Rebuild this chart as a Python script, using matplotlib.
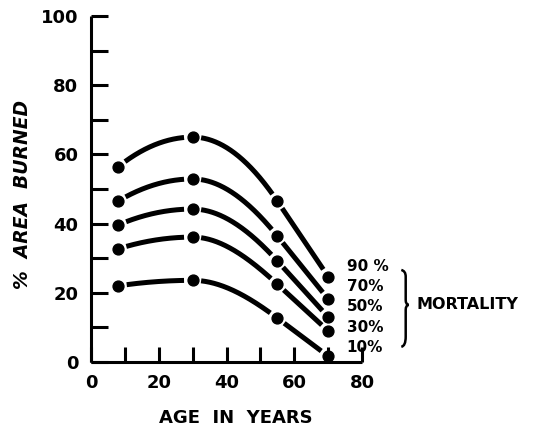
import numpy as np
import matplotlib
matplotlib.use("Agg")
import matplotlib.pyplot as plt
from matplotlib.path import Path
from matplotlib.patches import PathPatch

# -- data: % area burned vs. age, one curve per mortality level ---------------
age = [8, 30, 55, 70]
area_90 = [56.4, 65.0, 46.5, 24.7]
area_70 = [46.5, 52.9, 36.4, 18.2]
area_50 = [39.6, 44.2, 29.2, 13.0]
area_30 = [32.7, 36.1, 22.5, 9.0]
area_10 = [22.0, 23.6, 12.7, 1.7]
mortality_labels = ["90 %", "70%", "50%", "30%", "10%"]
series = [area_90, area_70, area_50, area_30, area_10]

x_ticks = [0, 20, 40, 60, 80]
y_ticks = [0, 20, 40, 60, 80, 100]

plt.rcParams["font.family"] = ["DejaVu Sans"]
plt.rcParams["font.weight"] = "bold"

fig = plt.figure(figsize=(5.36, 4.30), dpi=100)
ax = fig.add_axes([91 / 536, 68 / 430, 271 / 536, 346 / 430])
ax.set_xlim(0, 80)
ax.set_ylim(0, 100)

for side in ("top", "right"):
    ax.spines[side].set_visible(False)
for side in ("left", "bottom"):
    ax.spines[side].set_linewidth(2.2)
    ax.spines[side].set_capstyle("butt")

ax.set_xticks(x_ticks)
ax.set_xticks([10, 30, 50, 70], minor=True)
ax.set_yticks(y_ticks)
ax.set_yticks([10, 30, 50, 70, 90], minor=True)
ax.tick_params(axis="y", which="both", direction="in", length=12, width=2.2,
               pad=9, labelsize=13)
ax.tick_params(axis="x", which="both", direction="in", length=11, width=2.2,
               pad=9, labelsize=13)

ax.set_xlabel("AGE  IN  YEARS", fontsize=13, fontweight="bold")
ax.xaxis.set_label_coords(0.535, -0.136)
ax.set_ylabel("%  AREA  BURNED", fontsize=13.5, fontweight="bold", style="italic")
ax.yaxis.set_label_coords(-0.218, 0.483)

GAP_PX = 8.5


def arc_curve(xs, ys, t):
    # Hermite curve: level at the highest point, quadratic rise before it,
    # and a straight final run after the last interior point
    xs, ys = np.asarray(xs, float), np.asarray(ys, float)
    h = np.diff(xs)
    delta = np.diff(ys) / h
    m = np.zeros_like(ys)
    p = int(np.argmax(ys))
    for k in range(p + 1, len(xs)):
        m[k] = delta[min(k, len(delta) - 1)]
    for k in range(p, 0, -1):
        m[k - 1] = 2 * delta[k - 1] - m[k]
    k = np.clip(np.searchsorted(xs, t) - 1, 0, len(xs) - 2)
    s = (t - xs[k]) / h[k]
    h00 = 2 * s**3 - 3 * s**2 + 1
    h10 = s**3 - 2 * s**2 + s
    h01 = -2 * s**3 + 3 * s**2
    h11 = s**3 - s**2
    return h00 * ys[k] + h10 * h[k] * m[k] + h01 * ys[k + 1] + h11 * h[k] * m[k + 1]


def draw_curve(xs, ys):
    # smooth curve through the points, broken into dashes that stop short of each dot
    for x0, x1 in zip(xs[:-1], xs[1:]):
        t = np.linspace(x0, x1, 400)
        yv = arc_curve(xs, ys, t)
        pts = ax.transData.transform(np.column_stack([t, yv]))
        d = np.r_[0, np.cumsum(np.hypot(*np.diff(pts, axis=0).T))]
        keep = (d >= GAP_PX) & (d <= d[-1] - GAP_PX)
        ax.plot(t[keep], yv[keep], color="black", lw=3.6,
                solid_capstyle="butt", clip_on=False)
    ax.plot(xs, ys, "o", color="black", ms=7.8, clip_on=False, zorder=5)


for vals in series:
    draw_curve(age, vals)

label_y = np.linspace(series[0][-1] + 2.8, series[-1][-1] + 2.6, len(series))
for lab, ly in zip(mortality_labels, label_y):
    ax.text(75.5, ly, lab, fontsize=11, ha="left", va="center")

# curly brace grouping the mortality labels
bx0, bx1, btip = 91.6, 92.9, 93.8
btop, bbot, bmid = 26.6, 4.4, 16.5
verts = [
    (bx0, btop), (bx1, btop - 0.3), (bx1, btop - 1.9),
    (bx1, bmid + 1.4),
    (bx1, bmid + 0.1), (btip, bmid),
    (bx1, bmid - 0.1), (bx1, bmid - 1.4),
    (bx1, bbot + 2.9),
    (bx1, bbot + 0.2), (bx0, bbot),
]
codes = [Path.MOVETO, Path.CURVE3, Path.CURVE3, Path.LINETO,
         Path.CURVE3, Path.CURVE3, Path.CURVE3, Path.CURVE3,
         Path.LINETO, Path.CURVE3, Path.CURVE3]
ax.add_patch(PathPatch(Path(verts, codes), fill=False, lw=1.8,
                       color="black", clip_on=False))
ax.text(96.2, bmid, "MORTALITY", fontsize=11.5, fontweight="bold",
        ha="left", va="center")

fig.savefig("out.png", dpi=100)
